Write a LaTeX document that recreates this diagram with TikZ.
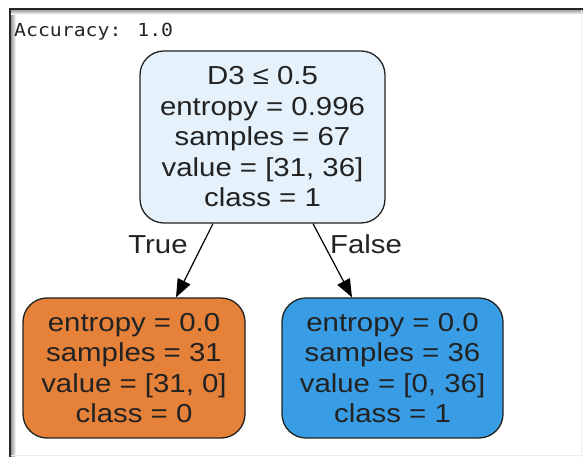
\documentclass[tikz,border=0pt]{standalone}
\usepackage{fontspec}
\setmainfont{Liberation Sans}[FakeStretch=1.13]
\newfontfamily\monofont{DejaVu Sans Mono}[FakeStretch=1.1]
\usetikzlibrary{arrows.meta}
\definecolor{rootblue}{HTML}{E5F1FB}
\definecolor{leaforange}{HTML}{E58139}
\definecolor{leafblue}{HTML}{399DE5}
\definecolor{inkgray}{HTML}{222222}
\begin{document}
\begin{tikzpicture}[x=1pt,y=1pt,
  treenode/.style={draw=inkgray, line width=1.3pt, rounded corners=24pt, align=center,
    inner sep=0pt, font=\fontsize{26}{30.5}\selectfont, text=inkgray},
  edge/.style={draw=black, line width=1.2pt, -{Triangle[length=18pt,width=14pt]}},
  lbl/.style={font=\fontsize{26}{30.5}\selectfont, text=inkgray, inner sep=0pt}]
\useasboundingbox (0,0) rectangle (583,457);
\fill[white] (0,0) rectangle (583,457);
% window frame
\shade[left color=black!40, right color=white] (11,0) rectangle (16,447.5);
\shade[top color=black!40, bottom color=white] (11,442.5) rectangle (583,447.5);
\draw[black!85, line width=2pt] (10,0) -- (10,447.5) -- (583,447.5);
\draw[black!8, line width=1pt] (581.5,0) -- (581.5,446.5);
\draw[black!8, line width=1pt] (11,1.5) -- (583,1.5);
% accuracy text
\node[anchor=base west, inner sep=0pt, font=\monofont\fontsize{18}{20}\selectfont, text=black!85] (acc) at (14,420) {Accuracy: 1.0};
% tree
\node[treenode, fill=rootblue, minimum width=245pt, minimum height=172pt] (root) at (262.5,320)
  {D3 ≤ 0.5\\entropy = 0.996\\samples = 67\\value = [31, 36]\\class = 1};
\node[treenode, fill=leaforange, minimum width=222pt, minimum height=140pt] (left) at (134,89)
  {entropy = 0.0\\samples = 31\\value = [31, 0]\\class = 0};
\node[treenode, fill=leafblue, minimum width=221pt, minimum height=140pt] (right) at (392.5,89)
  {entropy = 0.0\\samples = 36\\value = [0, 36]\\class = 1};
\draw[edge] ([xshift=-49.5pt]root.south) -- ([xshift=42pt]left.north);
\draw[edge] ([xshift=50.5pt]root.south) -- ([xshift=-40.5pt]right.north);
\node[lbl] (ltrue) at (158,212) {True};
\node[lbl] (lfalse) at (366,213) {False};
\end{tikzpicture}
\end{document}
